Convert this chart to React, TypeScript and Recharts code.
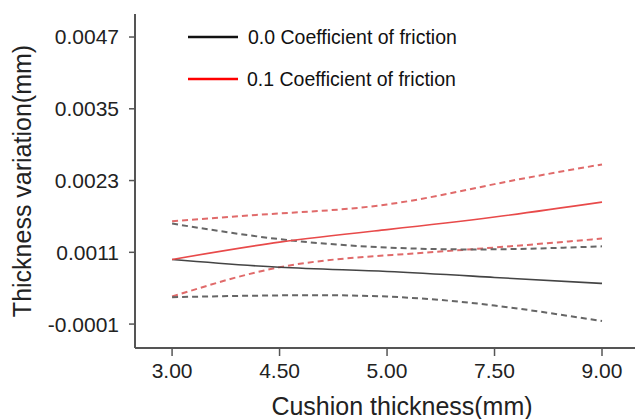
import React from 'react';
import { LineChart, Line, XAxis, YAxis } from 'recharts';

// cushion thickness categories (evenly spaced on the axis)
const thicknessLabels = ['3.00', '4.50', '5.00', '7.50', '9.00'];
const yTicks = [-0.0001, 0.0011, 0.0023, 0.0035, 0.0047];

// friction 0.0
const mean00 = [0.00098, 0.00085, 0.00078, 0.00068, 0.00058];
const upper00 = [0.00158, 0.00132, 0.00118, 0.00115, 0.0012];
const lower00 = [0.00035, 0.00038, 0.00036, 0.00021, -0.00005];

// friction 0.1
const mean01 = [0.00098, 0.00127, 0.00148, 0.00169, 0.00194];
const upper01 = [0.00162, 0.00175, 0.0019, 0.00224, 0.00257];
const lower01 = [0.00036, 0.00085, 0.00105, 0.00118, 0.00133];

const legendItems = [
    { name: '0.0 Coefficient of friction', color: '#111' },
    { name: '0.1 Coefficient of friction', color: '#f00' },
];

const data = thicknessLabels.map((label, i) => ({
    x: i,
    label,
    mean00: mean00[i],
    upper00: upper00[i],
    lower00: lower00[i],
    mean01: mean01[i],
    upper01: upper01[i],
    lower01: lower01[i],
}));

const font = '"Liberation Sans", Arial, sans-serif';
const axisColor = '#555';

// legend sits inside the plot, top-left
const LegendBox = () => (
    <svg width={300} height={80} style={{ position: 'absolute', left: 188, top: 20 }}>
        {legendItems.map((item, i) => (
            <g key={item.name}>
                <line x1={0} y1={17 + i * 42} x2={50} y2={17 + i * 42} stroke={item.color} strokeWidth={2.5} />
                <text x={60 - i} y={24 + i * 42} fontSize={19.5} fill="#111" fontFamily={font}>{item.name}</text>
            </g>
        ))}
    </svg>
);

export default function App() {
    return (
        <div style={{ position: 'absolute', left: 0, top: 0, width: 635, height: 419, overflow: 'hidden', background: '#fff' }}>
            <LineChart width={650} height={419} data={data} margin={{ top: 14, right: 5, bottom: 0, left: 0 }}>
                <XAxis
                    xAxisId="top"
                    orientation="top"
                    type="number"
                    dataKey="x"
                    domain={[-0.345, 4.4]}
                    allowDataOverflow
                    height={0}
                    tick={false}
                    tickLine={false}
                    axisLine={{ stroke: '#666', strokeWidth: 2 }}
                />
                <XAxis
                    type="number"
                    dataKey="x"
                    domain={[-0.345, 4.4]}
                    allowDataOverflow
                    ticks={[0, 1, 2, 3, 4]}
                    tickFormatter={(i: number) => thicknessLabels[i]}
                    height={71}
                    tickSize={8}
                    tickMargin={7}
                    axisLine={{ stroke: axisColor, strokeWidth: 2 }}
                    tickLine={{ stroke: axisColor, strokeWidth: 1.5 }}
                    tick={{ fontSize: 21, fill: '#222', fontFamily: font }}
                    label={{
                        value: 'Cushion thickness(mm)',
                        position: 'insideBottom',
                        offset: 4,
                        dx: 12,
                        style: { fontSize: 25, fill: '#222', fontFamily: font },
                    }}
                />
                <YAxis
                    type="number"
                    domain={[-0.0005, 0.005085]}
                    allowDataOverflow
                    ticks={yTicks}
                    tickFormatter={(v: number) => v.toFixed(4)}
                    width={135}
                    tickSize={6}
                    tickMargin={10}
                    axisLine={{ stroke: axisColor, strokeWidth: 2 }}
                    tickLine={{ stroke: axisColor, strokeWidth: 1.5 }}
                    tick={{ fontSize: 21, fill: '#222', fontFamily: font }}
                    label={{
                        value: 'Thickness variation(mm)',
                        angle: -90,
                        position: 'insideLeft',
                        offset: 22,
                        style: { fontSize: 25, fill: '#222', fontFamily: font, textAnchor: 'middle' },
                    }}
                />
                <Line type="natural" dataKey="upper01" stroke="#e06a6a" strokeWidth={2} strokeDasharray="6 4" dot={false} isAnimationActive={false} />
                <Line type="natural" dataKey="lower01" stroke="#e06a6a" strokeWidth={2} strokeDasharray="6 4" dot={false} isAnimationActive={false} />
                <Line type="natural" dataKey="upper00" stroke="#666" strokeWidth={2} strokeDasharray="6 4" dot={false} isAnimationActive={false} />
                <Line type="natural" dataKey="lower00" stroke="#666" strokeWidth={2} strokeDasharray="6 4" dot={false} isAnimationActive={false} />
                <Line type="natural" dataKey="mean00" stroke="#444" strokeWidth={1.6} dot={false} isAnimationActive={false} />
                <Line type="natural" dataKey="mean01" stroke="#e84a4a" strokeWidth={1.6} dot={false} isAnimationActive={false} />
            </LineChart>
            <LegendBox />
        </div>
    );
}
